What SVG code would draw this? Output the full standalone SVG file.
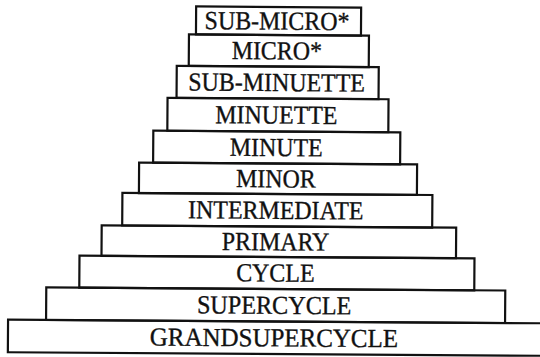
<svg xmlns="http://www.w3.org/2000/svg" width="540" height="357" viewBox="0 0 540 357">
<style>
.b{fill:none;stroke:#111;stroke-width:2.2}
.t{font-family:"Liberation Serif","Times New Roman",serif;font-size:26px;text-anchor:middle;fill:#111;stroke:#111;stroke-width:0.35}
</style>
<rect width="540" height="357" fill="#fff"/>
<g transform="rotate(0.38 277 180)">
<g id="sub-micro"><rect class="b" x="195" y="7" width="165" height="28"/><text class="t" transform="translate(276 0) scale(0.92 1)" y="29.6">SUB-MICRO*</text></g>
<g id="micro"><rect class="b" x="188" y="35" width="180" height="31.5"/><text class="t" transform="translate(276 0) scale(0.92 1)" y="59.4">MICRO*</text></g>
<g id="sub-minuette"><rect class="b" x="176" y="66.5" width="202" height="32"/><text class="t" transform="translate(276 0) scale(0.92 1)" y="91.1">SUB-MINUETTE</text></g>
<g id="minuette"><rect class="b" x="167" y="98.5" width="221" height="33"/><text class="t" transform="translate(276 0) scale(0.92 1)" y="123.6">MINUETTE</text></g>
<g id="minute"><rect class="b" x="153" y="131.5" width="247" height="32"/><text class="t" transform="translate(276 0) scale(0.92 1)" y="156.1">MINUTE</text></g>
<g id="minor"><rect class="b" x="139" y="163.5" width="278" height="30.5"/><text class="t" transform="translate(276 0) scale(0.92 1)" y="187.4">MINOR</text></g>
<g id="intermediate"><rect class="b" x="122.5" y="194" width="310" height="32.5"/><text class="t" transform="translate(276 0) scale(0.92 1)" y="218.9">INTERMEDIATE</text></g>
<g id="primary"><rect class="b" x="102" y="226.5" width="354.5" height="30.5"/><text class="t" transform="translate(276 0) scale(0.92 1)" y="250.4">PRIMARY</text></g>
<g id="cycle"><rect class="b" x="80" y="257" width="395" height="32"/><text class="t" transform="translate(276 0) scale(0.92 1)" y="281.6">CYCLE</text></g>
<g id="supercycle"><rect class="b" x="47" y="289" width="459" height="32.5"/><text class="t" transform="translate(275 0) scale(0.93 1)" y="313.9">SUPERCYCLE</text></g>
<g id="grand-supercycle"><rect class="b" x="9" y="321.5" width="540" height="32.5"/><text class="t" transform="translate(275 0) scale(0.96 1)" y="346.4">GRANDSUPERCYCLE</text></g>
</g>
<g id="connectors"/>
</svg>
